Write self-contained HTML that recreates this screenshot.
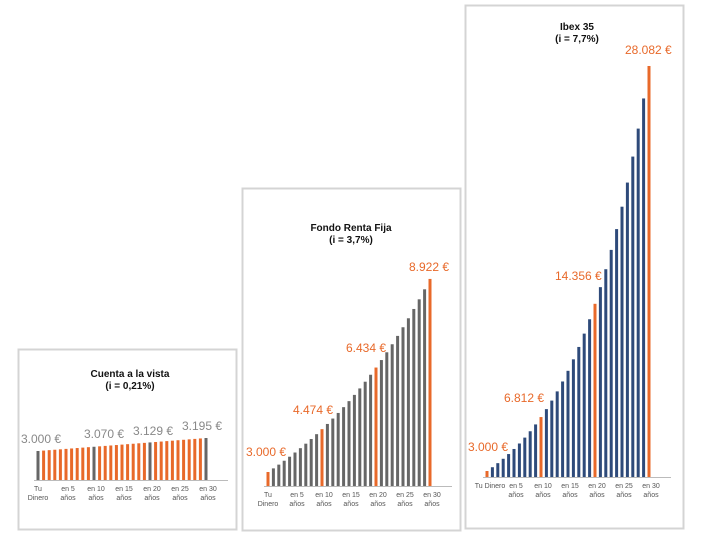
<!DOCTYPE html>
<html><head><meta charset="utf-8"><style>
body{margin:0;background:#fff;width:705px;height:534px;overflow:hidden}
svg{display:block;font-family:"Liberation Sans",sans-serif}
</style></head><body>
<svg id="s" width="705" height="534" xmlns="http://www.w3.org/2000/svg">
<rect x="18.5" y="349.5" width="218" height="180" fill="#fff" stroke="#d4d4d4" stroke-width="2"/>
<rect x="242.5" y="188.5" width="218" height="342" fill="#fff" stroke="#d4d4d4" stroke-width="2"/>
<rect x="465.5" y="5.5" width="218" height="523" fill="#fff" stroke="#d4d4d4" stroke-width="2"/>
<g font-weight="bold" font-size="10" text-anchor="middle" fill="#111">
<text x="130" y="377">Cuenta a la vista</text><text x="130" y="389">(i = 0,21%)</text>
<text x="351" y="231">Fondo Renta Fija</text><text x="351" y="243">(i = 3,7%)</text>
<text x="577" y="30">Ibex 35</text><text x="577" y="42">(i = 7,7%)</text>
</g>
<g font-size="12" fill="#888">
<text x="21" y="443">3.000 €</text><text x="84" y="438">3.070 €</text><text x="133" y="435">3.129 €</text><text x="182" y="430">3.195 €</text>
</g>
<g font-size="12" fill="#e8692a">
<text x="246" y="456">3.000 €</text><text x="293" y="414">4.474 €</text><text x="346" y="352">6.434 €</text><text x="409" y="271">8.922 €</text>
<text x="468" y="451">3.000 €</text><text x="504" y="402">6.812 €</text><text x="555" y="280">14.356 €</text><text x="625" y="54">28.082 €</text>
</g>
</svg>
<script>
const s=document.getElementById('s');const NS='http://www.w3.org/2000/svg';
function el(t,a,txt){const e=document.createElementNS(NS,t);for(const k in a)e.setAttribute(k,a[k]);if(txt)e.textContent=txt;s.appendChild(e);}
function panel(x0,x1,base,rate,a,b,main,hl,firstOne){
 const sp=(x1-x0)/30;
 el('line',{x1:x0-4,x2:x1+22,y1:base+0.5,y2:base+0.5,stroke:'#bbb','stroke-width':1});
 for(let n=0;n<=30;n++){const v=3000*Math.pow(1+rate,n);const h=a+b*v;
  el('rect',{x:x0+n*sp-1.5,y:base-h,width:3,height:h,fill:(n%10==0)?hl:main});}
 const labs=[['Tu','Dinero'],['en 5','años'],['en 10','años'],['en 15','años'],['en 20','años'],['en 25','años'],['en 30','años']];
 labs.forEach((l,i)=>{const x=x0+i*5*sp;
  if(i==0&&firstOne){el('text',{x:x+3,y:base+11,'font-size':7,fill:'#555','text-anchor':'middle'},'Tu Dinero');return;}
  el('text',{x:x+(i==0?0:2),y:base+11,'font-size':7,fill:'#555','text-anchor':'middle'},l[0]);
  el('text',{x:x+(i==0?0:2),y:base+20,'font-size':7,fill:'#555','text-anchor':'middle'},l[1]);});
}
panel(38,206,480,0.0021,29-3000*(13/195),13/195,'#e8692a','#666',false);
panel(268,430,486,0.037,14-3000*0.0326,0.0326,'#666','#e8692a',false);
panel(487,649,477,0.077,6-3000*0.01635,0.01635,'#2e4a7a','#e8692a',true);
</script>
</body></html>
